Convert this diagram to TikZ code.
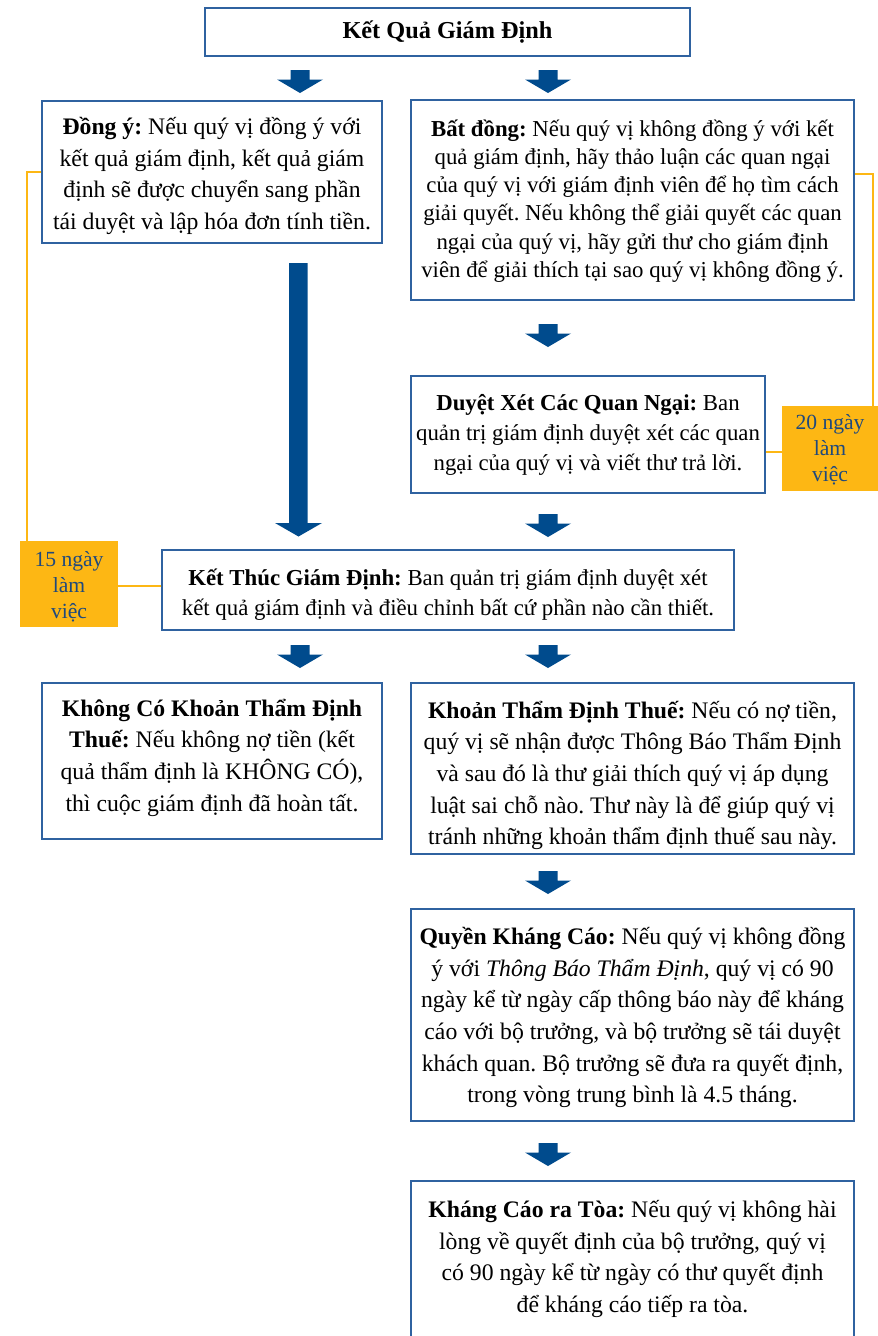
\documentclass[tikz,border=0pt]{standalone}
\usepackage{fontspec}
\setmainfont{Liberation Serif}
\usetikzlibrary{calc}
\frenchspacing
\definecolor{boxblue}{RGB}{47,98,160}
\definecolor{arrblue}{RGB}{0,75,141}
\definecolor{gold}{RGB}{253,183,20}
\definecolor{txtblue}{RGB}{31,73,125}
\newcommand\szT{\fontsize{24.3}{30}\selectfont}
\newcommand\szA{\fontsize{23.7}{31.7}\selectfont}
\newcommand\szB{\fontsize{22.8}{28.3}\selectfont}
\newcommand\szC{\fontsize{22.8}{30.3}\selectfont}
\newcommand\szY{\fontsize{21.6}{25.8}\selectfont}
\begin{document}
\begin{tikzpicture}[x=1pt,y=-1pt,
  box/.style={draw=boxblue,line width=1.3pt,fill=white,inner sep=0pt},
  ybox/.style={fill=gold,inner sep=0pt},
  txt/.style={align=center,inner sep=0pt,text=black},
  ytxt/.style={align=center,inner sep=0pt,text=txtblue,font=\szY},
  conn/.style={draw=gold,line width=2pt},
  darrow/.pic={\fill[arrblue] (-9.5,0) -- (9.5,0) -- (9.5,9.5) -- (23,9.5) -- (0,23) -- (-23,9.5) -- (-9.5,9.5) -- cycle;}
]
\useasboundingbox (0,0) rectangle (878,1336);
\clip (0,0) rectangle (878,1336);
\fill[white] (0,0) rectangle (878,1336);

% boxes
\node[box,minimum width=485,minimum height=48] (top) at (447.5,32) {};
\node[box,minimum width=340,minimum height=142] (dongy) at (212,172) {};
\node[box,minimum width=443,minimum height=200] (batdong) at (632.5,200) {};
\node[box,minimum width=354,minimum height=117] (duyet) at (588,434.5) {};
\node[ybox,minimum width=96,minimum height=85] (d20) at (830,448.5) {};
\node[box,minimum width=572,minimum height=80] (ketthuc) at (448,590) {};
\node[ybox,minimum width=98,minimum height=86] (d15) at (69,584) {};
\node[box,minimum width=340,minimum height=156] (khong) at (212,761) {};
\node[box,minimum width=443,minimum height=171] (khoan) at (632.5,768.5) {};
\node[box,minimum width=443,minimum height=212] (quyen) at (632.5,1015) {};
\node[box,minimum width=443,minimum height=169] (khang) at (632.5,1265.5) {};

% yellow connectors
\draw[conn] (dongy.west) -| ($(d15.north west)+(7,0)$);
\draw[conn] ([yshift=4pt]ketthuc.west) -- ([yshift=4pt]ketthuc.west -| d15.east);
\draw[conn] ([yshift=26pt]batdong.east) -| ($(d20.north east)+(-5,0)$);
\draw[conn] ([yshift=-17.5pt]duyet.east) -- ([yshift=-17.5pt]duyet.east -| d20.west);

% texts
\node[txt,font=\szT] (top-t) at (top.center) {\textbf{Kết Quả Giám Định}};
\node[txt,font=\szA] (dongy-t) at (212,176) {\textbf{Đồng ý:} Nếu quý vị đồng ý với\\kết quả giám định, kết quả giám\\định sẽ được chuyển sang phần\\tái duyệt và lập hóa đơn tính tiền.};
\node[txt,font=\szB] (batdong-t) at (632.5,201) {\textbf{Bất đồng:} Nếu quý vị không đồng ý với kết\\quả giám định, hãy thảo luận các quan ngại\\của quý vị với giám định viên để họ tìm cách\\giải quyết. Nếu không thể giải quyết các quan\\ngại của quý vị, hãy gửi thư cho giám định\\viên để giải thích tại sao quý vị không đồng ý.};
\node[txt,font=\szC] (duyet-t) at (588,435) {\textbf{Duyệt Xét Các Quan Ngại:} Ban\\quản trị giám định duyệt xét các quan\\ngại của quý vị và viết thư trả lời.};
\node[ytxt] (d20-t) at (830,450) {20 ngày\\làm\\việc};
\node[txt,font=\szC] (ketthuc-t) at (448,595) {\textbf{Kết Thúc Giám Định:} Ban quản trị giám định duyệt xét\\kết quả giám định và điều chỉnh bất cứ phần nào cần thiết.};
\node[ytxt] (d15-t) at (69,587) {15 ngày\\làm\\việc};
\node[txt,font=\szA] (khong-t) at (212,757.5) {\textbf{Không Có Khoản Thẩm Định}\\\textbf{Thuế:} Nếu không nợ tiền (kết\\quả thẩm định là KHÔNG CÓ),\\thì cuộc giám định đã hoàn tất.};
\node[txt,font=\szA] (khoan-t) at (632.5,775.5) {\textbf{Khoản Thẩm Định Thuế:} Nếu có nợ tiền,\\quý vị sẽ nhận được Thông Báo Thẩm Định\\và sau đó là thư giải thích quý vị áp dụng\\luật sai chỗ nào. Thư này là để giúp quý vị\\tránh những khoản thẩm định thuế sau này.};
\node[txt,font=\szA] (quyen-t) at (632.5,1017.5) {\textbf{Quyền Kháng Cáo:} Nếu quý vị không đồng\\ý với \textit{Thông Báo Thẩm Định}, quý vị có 90\\ngày kể từ ngày cấp thông báo này để kháng\\cáo với bộ trưởng, và bộ trưởng sẽ tái duyệt\\khách quan. Bộ trưởng sẽ đưa ra quyết định,\\trong vòng trung bình là 4.5 tháng.};
\node[txt,font=\szA] (khang-t) at (632.5,1259) {\textbf{Kháng Cáo ra Tòa:} Nếu quý vị không hài\\lòng về quyết định của bộ trưởng, quý vị\\có 90 ngày kể từ ngày có thư quyết định\\để kháng cáo tiếp ra tòa.};

% block arrows
\pic at (300,70) {darrow};
\pic at (548,70) {darrow};
\pic at (548,324) {darrow};
\pic at (548,514) {darrow};
\pic at (300,645) {darrow};
\pic at (548,645) {darrow};
\pic at (548,871) {darrow};
\pic at (548,1143) {darrow};
\fill[arrblue] (289,263) -- (307.5,263) -- (307.5,523) -- (322,523) -- (298.5,536.5) -- (275,523) -- (289,523) -- cycle;
\end{tikzpicture}
\end{document}
